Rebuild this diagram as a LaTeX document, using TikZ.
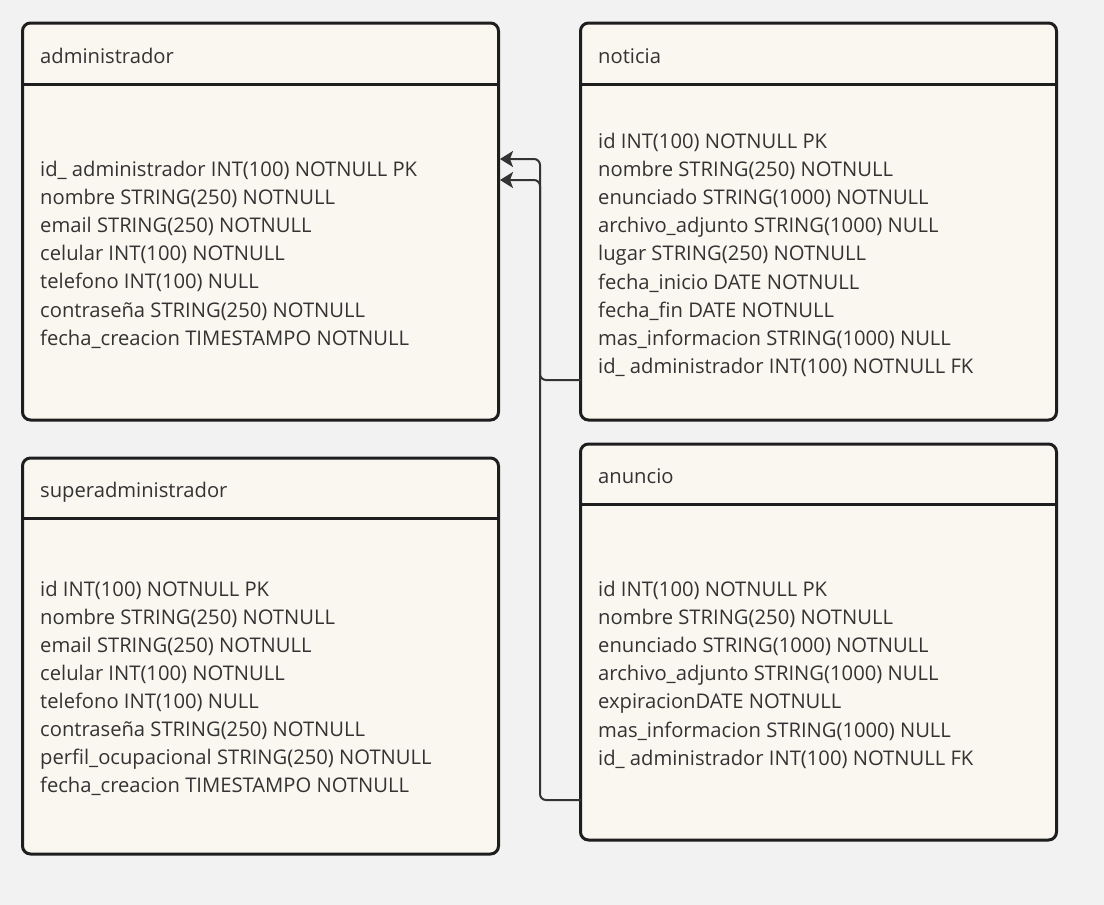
\documentclass[tikz,border=0pt]{standalone}
\usepackage{fontspec}
\setmainfont{Open Sans}
\usetikzlibrary{arrows.meta,positioning}

\definecolor{bgcol}{HTML}{F2F2F2}
\definecolor{cardcol}{HTML}{FAF6F0}
\definecolor{edgecol}{HTML}{1E1E1E}
\definecolor{txtcol}{HTML}{333333}

\begin{document}
\begin{tikzpicture}[x=1pt,y=-1pt]
  \tikzstyle{entity}=[draw=edgecol, line width=3pt, fill=cardcol, rounded corners=8pt,
    anchor=north west, inner sep=0pt, outer sep=0pt, minimum width=476pt]
  \tikzstyle{title}=[anchor=base west, inner sep=0pt, text=txtcol, font=\fontsize{20.2}{24}\selectfont]
  \tikzstyle{field}=[anchor=base west, inner sep=0pt, text=txtcol, font=\fontsize{20.2}{24}\selectfont]

  \useasboundingbox[fill=bgcol] (0,0) rectangle (1104,905);

  % Tables (position, size)
  \node[entity, minimum height=397pt] (admin) at (22.5,23) {};
  \node[entity, minimum height=397pt] (noticia) at (580.5,23) {};
  \node[entity, minimum height=396pt] (superadmin) at (22.5,458) {};
  \node[entity, minimum height=396pt] (anuncio) at (580.5,444) {};

  % Header separators
  \draw[edgecol, line width=3pt] (admin.west |- 0,84) -- (admin.east |- 0,84);
  \draw[edgecol, line width=3pt] (noticia.west |- 0,84) -- (noticia.east |- 0,84);
  \draw[edgecol, line width=3pt] (superadmin.west |- 0,518) -- (superadmin.east |- 0,518);
  \draw[edgecol, line width=3pt] (anuncio.west |- 0,504) -- (anuncio.east |- 0,504);

  % Titles
  \node[title] (admin-title) at (40,63) {administrador};
  \node[title] (noticia-title) at (598,63) {noticia};
  \node[title] (superadmin-title) at (40,497) {superadministrador};
  \node[title] (anuncio-title) at (598,483) {anuncio};

  % Fields
  \foreach \row [count=\i] in {id\_ administrador INT(100) NOTNULL PK, nombre STRING(250) NOTNULL,
      email STRING(250) NOTNULL, celular INT(100) NOTNULL, telefono INT(100) NULL,
      contraseña STRING(250) NOTNULL, fecha\_creacion TIMESTAMPO NOTNULL}
    \node[field] (admin-\i) at (40,{176+28.2*(\i-1)}) {\row};

  \foreach \row [count=\i] in {id INT(100) NOTNULL PK, nombre STRING(250) NOTNULL,
      enunciado STRING(1000) NOTNULL, archivo\_adjunto STRING(1000) NULL,
      lugar STRING(250) NOTNULL, fecha\_inicio DATE NOTNULL, fecha\_fin DATE NOTNULL,
      mas\_informacion STRING(1000) NULL, id\_ administrador INT(100) NOTNULL FK}
    \node[field] (noticia-\i) at (598,{148+28.2*(\i-1)}) {\row};

  \foreach \row [count=\i] in {id INT(100) NOTNULL PK, nombre STRING(250) NOTNULL,
      email STRING(250) NOTNULL, celular INT(100) NOTNULL, telefono INT(100) NULL,
      contraseña STRING(250) NOTNULL, perfil\_ocupacional STRING(250) NOTNULL,
      fecha\_creacion TIMESTAMPO NOTNULL}
    \node[field] (superadmin-\i) at (40,{596+28.1*(\i-1)}) {\row};

  \foreach \row [count=\i] in {id INT(100) NOTNULL PK, nombre STRING(250) NOTNULL,
      enunciado STRING(1000) NOTNULL, archivo\_adjunto STRING(1000) NULL,
      expiracionDATE NOTNULL, mas\_informacion STRING(1000) NULL,
      id\_ administrador INT(100) NOTNULL FK}
    \node[field] (anuncio-\i) at (598,{596+28.2*(\i-1)}) {\row};

  % Connector ends
  \coordinate (noticia-fk) at (581,380);
  \coordinate (anuncio-fk) at (581,800);
  \coordinate (admin-in1) at (500,159);
  \coordinate (admin-in2) at (500,180);

  \begin{scope}[draw=txtcol, line width=2pt, rounded corners=6pt,
      -{Stealth[length=13pt, width=16pt, inset=3pt]}]
    \draw (anuncio-fk) -- (540,800) |- (admin-in1);
    \draw (noticia-fk) -- (540,380) |- (admin-in2);
  \end{scope}
\end{tikzpicture}
\end{document}
